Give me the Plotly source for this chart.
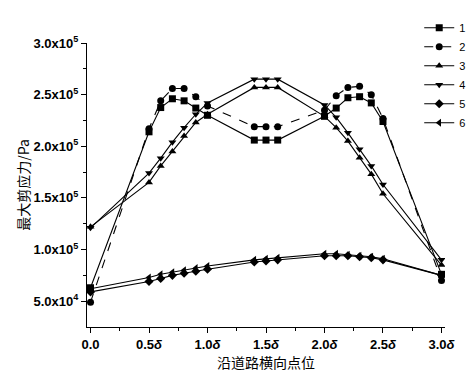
import plotly.graph_objects as go

x_pos = [0, 0.5, 0.6, 0.7, 0.8, 0.9, 1.0, 1.4, 1.5, 1.6, 2.0, 2.1, 2.2, 2.3, 2.4, 2.5, 3.0]

s1 = [6.3e4, 2.14e5, 2.375e5, 2.46e5, 2.44e5, 2.37e5, 2.30e5, 2.06e5, 2.06e5, 2.06e5,
      2.29e5, 2.37e5, 2.47e5, 2.48e5, 2.42e5, 2.24e5, 7.6e4]
s2 = [4.9e4, 2.17e5, 2.44e5, 2.56e5, 2.56e5, 2.48e5, 2.39e5, 2.19e5, 2.19e5, 2.19e5,
      2.35e5, 2.49e5, 2.57e5, 2.58e5, 2.50e5, 2.27e5, 7.0e4]
s3 = [1.22e5, 1.65e5, 1.81e5, 1.95e5, 2.10e5, 2.23e5, 2.31e5, 2.57e5, 2.57e5, 2.57e5,
      2.29e5, 2.18e5, 2.05e5, 1.89e5, 1.73e5, 1.54e5, 8.5e4]
s4 = [1.21e5, 1.74e5, 1.885e5, 2.04e5, 2.18e5, 2.31e5, 2.42e5, 2.65e5, 2.65e5, 2.65e5,
      2.40e5, 2.28e5, 2.13e5, 1.97e5, 1.81e5, 1.63e5, 9.0e4]
s5 = [5.9e4, 6.9e4, 7.2e4, 7.5e4, 7.7e4, 7.9e4, 8.1e4, 8.8e4, 8.9e4, 9.0e4,
      9.4e4, 9.4e4, 9.4e4, 9.3e4, 9.2e4, 9.0e4, 7.5e4]
s6 = [6.2e4, 7.3e4, 7.6e4, 7.8e4, 8.0e4, 8.2e4, 8.4e4, 9.0e4, 9.1e4, 9.2e4,
      9.6e4, 9.6e4, 9.5e4, 9.4e4, 9.3e4, 9.1e4, 7.5e4]

series = [("1", s1, "square", "solid"), ("2", s2, "circle", "dash"),
          ("3", s3, "triangle-up", "solid"), ("4", s4, "triangle-down", "solid"),
          ("5", s5, "diamond", "solid"), ("6", s6, "triangle-left", "solid")]

x_tickvals = [0, 0.5, 1.0, 1.5, 2.0, 2.5, 3.0]
x_ticktext = ["0.0", "0.5<i>δ</i>", "1.0<i>δ</i>", "1.5<i>δ</i>", "2.0<i>δ</i>", "2.5<i>δ</i>", "3.0<i>δ</i>"]
y_tickvals = [5e4, 1e5, 1.5e5, 2e5, 2.5e5, 3e5]
y_ticktext = ["5.0x10<sup>4</sup>", "1.0x10<sup>5</sup>", "1.5x10<sup>5</sup>",
              "2.0x10<sup>5</sup>", "2.5x10<sup>5</sup>", "3.0x10<sup>5</sup>"]

fig = go.Figure()
for name, vals, sym, dash in series:
    fig.add_trace(go.Scatter(
        x=x_pos, y=vals, name=name, mode="lines+markers",
        line=dict(color="black", width=1.1, dash=dash),
        marker=dict(symbol=sym, size=7, color="black"),
    ))

fig.update_layout(
    width=474, height=376,
    margin=dict(l=87, r=29, t=43, b=49, autoexpand=False),
    paper_bgcolor="white", plot_bgcolor="white",
    font=dict(family="Liberation Sans, Arial", color="black", size=12),
    legend=dict(x=0.928, y=1.105, xanchor="left", yanchor="top",
                bgcolor="rgba(0,0,0,0)", font=dict(size=11, color="black"),
                tracegroupgap=0, itemwidth=30),
    showlegend=True,
)
fig.update_xaxes(
    range=[-0.03, 3.03], tickvals=x_tickvals, ticktext=x_ticktext,
    showline=True, linecolor="black", linewidth=1.2, showgrid=False, zeroline=False,
    ticks="outside", ticklen=5, tickcolor="black", automargin=False,
    minor=dict(tickvals=[0.25, 0.75, 1.25, 1.75, 2.25, 2.75], ticks="outside", ticklen=3, tickcolor="black"),
    tickfont=dict(family="Liberation Sans, Arial", size=13, weight="bold", color="black"),
    title=dict(text="沿道路横向点位", font=dict(family="Noto Sans CJK SC", size=14, color="black"), standoff=0),
)
fig.update_yaxes(
    range=[2.5e4, 3.0e5], tickvals=y_tickvals, ticktext=y_ticktext,
    showline=True, linecolor="black", linewidth=1.2, showgrid=False, zeroline=False,
    ticks="outside", ticklen=5, tickcolor="black", automargin=False,
    minor=dict(tickvals=[7.5e4, 1.25e5, 1.75e5, 2.25e5, 2.75e5], ticks="outside", ticklen=3, tickcolor="black"),
    tickfont=dict(family="Liberation Sans, Arial", size=13, weight="bold", color="black"),
    title=dict(text="最大剪应力/Pa", font=dict(family="Noto Sans CJK SC", size=14, color="black"), standoff=0),
)

fig.write_html("out.html", config={"displayModeBar": False},
               post_script="document.body.style.margin='0';document.body.style.padding='0';")
